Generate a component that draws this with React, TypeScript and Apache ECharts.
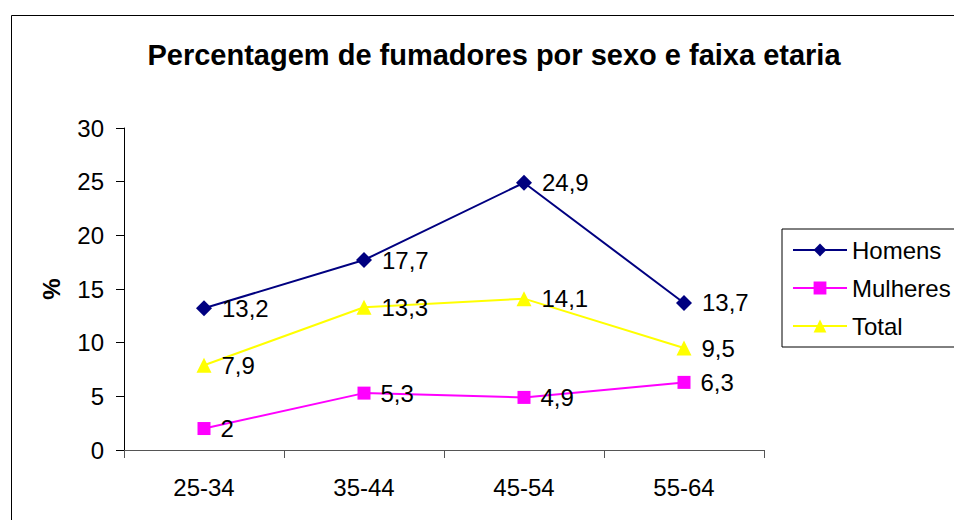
import React, { useEffect, useRef } from "react";
import * as echarts from "echarts";

const categories = ["25-34", "35-44", "45-54", "55-64"];
const homens = [13.2, 17.7, 24.9, 13.7];
const mulheres = [2, 5.3, 4.9, 6.3];
const total = [7.9, 13.3, 14.1, 9.5];
const yTicks = { min: 0, max: 30, interval: 5 };

const FONT = "'Liberation Sans', Arial, sans-serif";

export default function App() {
  const ref = useRef<HTMLDivElement>(null);
  useEffect(() => {
    document.body.style.margin = "0";
    if (!ref.current) return;
    const chart = echarts.init(ref.current, null, { renderer: "svg" });
    const label = {
      show: true,
      position: "right" as const,
      distance: 10,
      color: "#000",
      fontFamily: FONT,
      fontSize: 24,
      formatter: (p: any) => String(p.value).replace(".", ","),
    };
    const mk = (name: string, data: number[], color: string, symbol: string, size: number) => ({
      name,
      type: "line",
      data,
      symbol,
      symbolSize: size,
      lineStyle: { color, width: 2 },
      itemStyle: { color },
      label,
    });
    chart.setOption({
      animation: false,
      backgroundColor: "#fff",
      textStyle: { fontFamily: FONT },
      title: {
        text: "Percentagem de fumadores por sexo e faixa etaria",
        left: 489,
        textAlign: "center",
        top: 35,
        textStyle: { fontFamily: FONT, fontSize: 29, fontWeight: "bold", color: "#000" },
      },
      graphic: [
        {
          type: "rect",
          shape: { x: 11.5, y: 15.5, width: 1200, height: 800 },
          style: { fill: "none", stroke: "#000", lineWidth: 1 },
          silent: true,
        },
      ],
      legend: {
        left: 782,
        top: 229,
        orient: "vertical",
        itemWidth: 54,
        itemHeight: 16,
        itemGap: 14,
        padding: [9, 12, 9, 10],
        borderColor: "#000",
        borderWidth: 1,
        textStyle: { fontFamily: FONT, fontSize: 24, color: "#000" },
        data: ["Homens", "Mulheres", "Total"],
      },
      grid: { left: 124, right: 190, top: 128, bottom: 70 },
      xAxis: {
        type: "category",
        data: categories,
        boundaryGap: true,
        axisLine: { lineStyle: { color: "#555", width: 1 } },
        axisTick: { show: true, length: 8, alignWithLabel: false, lineStyle: { color: "#555" } },
        axisLabel: { fontFamily: FONT, fontSize: 24, color: "#000", margin: 25 },
      },
      yAxis: {
        type: "value",
        min: yTicks.min,
        max: yTicks.max,
        interval: yTicks.interval,
        name: "%",
        nameLocation: "middle",
        nameGap: 61,
        nameRotate: 90,
        nameTextStyle: { fontFamily: FONT, fontSize: 24, fontWeight: "bold", color: "#000" },
        axisLine: { show: true, lineStyle: { color: "#000", width: 1 } },
        axisTick: { show: true, length: 8, lineStyle: { color: "#000" } },
        splitLine: { show: false },
        axisLabel: { fontFamily: FONT, fontSize: 24, color: "#000", margin: 20 },
      },
      series: [
        mk("Homens", homens, "#000080", "diamond", 16),
        mk("Mulheres", mulheres, "#FF00FF", "rect", 13),
        mk("Total", total, "#FFFF00", "triangle", 15),
      ],
    });
    return () => chart.dispose();
  }, []);
  return <div ref={ref} style={{ width: 954, height: 520 }} />;
}
